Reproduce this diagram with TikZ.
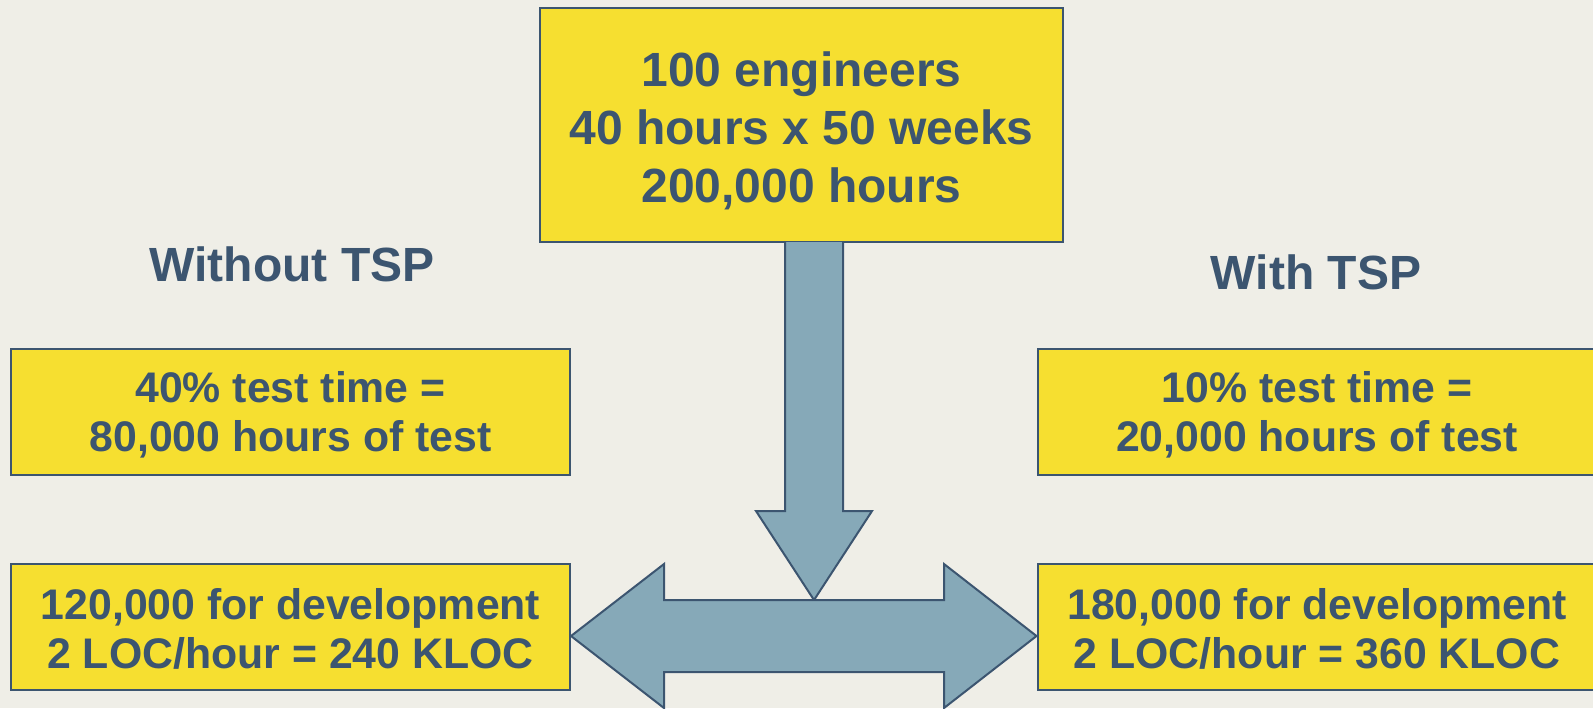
\documentclass[tikz,border=0pt]{standalone}
\usepackage{fontspec}
\setmainfont{Liberation Sans}
\usetikzlibrary{positioning,calc}

\definecolor{slate}{HTML}{3C5570}
\definecolor{boxyellow}{HTML}{F6DF30}
\definecolor{arrowblue}{HTML}{86A9B8}
\definecolor{paper}{HTML}{EFEEE7}

\begin{document}
\begin{tikzpicture}[x=0.5pt, y=-0.5pt,
                    every box/.style = {},
                    box/.style = {rectangle, draw=slate, line width=1pt, fill=boxyellow, inner sep=0pt, every box},
                    box text/.style = {inner sep=0pt, align=center, text=slate, font=\fontsize{24}{29}\selectfont\bfseries},
                    side text/.style = {box text, font=\fontsize{21.4}{24.5}\selectfont\bfseries},
                    side box/.style = {box, minimum width=279.5pt, minimum height=63pt},
                    heading/.style = {text=slate, font=\fontsize{24}{29}\selectfont\bfseries},
                    block arrow/.style = {draw=slate, line width=1pt, fill=arrowblue, line join=miter}]
    % page
    \fill[paper] (0,0) rectangle (1593,708);
    \useasboundingbox (0,0) rectangle (1593,708);
    % top
    \node at (801.5,125) [box, minimum width=261.5pt, minimum height=117pt,
          label={[box text, yshift=-3pt]center:{100 engineers\\40 hours x 50 weeks\\200,000 hours}}] (total) {};
    % headings
    \node at (292,264) [heading] (without) {Without TSP};
    \node at (1316,272) [heading] (with) {With TSP};
    % left column
    \node at (290.5,412) [side box, label={[side text, yshift=-1.5pt]center:{40\% test time =\\80,000 hours of test}}] (testA) {};
    \node at (290.5,627) [side box, label={[side text, yshift=-1pt]center:{120,000 for development\\2 LOC/hour = 240 KLOC}}] (devA) {};
    % right column
    \node at (1317,412) [side box, label={[side text, yshift=-1.5pt]center:{10\% test time =\\20,000 hours of test}}] (testB) {};
    \node at (1317,627) [side box, label={[side text, yshift=-1pt]center:{180,000 for development\\2 LOC/hour = 360 KLOC}}] (devB) {};
    % arrows
    \coordinate (split) at (814,600);
    \coordinate (tipA) at (devA.east |- 0,636);
    \coordinate (tipB) at (devB.west |- 0,636);
    \draw[block arrow] (785,242) -- (785,511) -- (756,511) -- (split) -- (872,511) -- (843,511) -- (843,242);
    \draw[block arrow] (tipA) -- (664,564) -- (664,600) -- (split) -- (944,600) -- (944,564) -- (tipB)
                       -- (944,708) -- (944,672) -- (664,672) -- (664,708) -- cycle;
\end{tikzpicture}
\end{document}
